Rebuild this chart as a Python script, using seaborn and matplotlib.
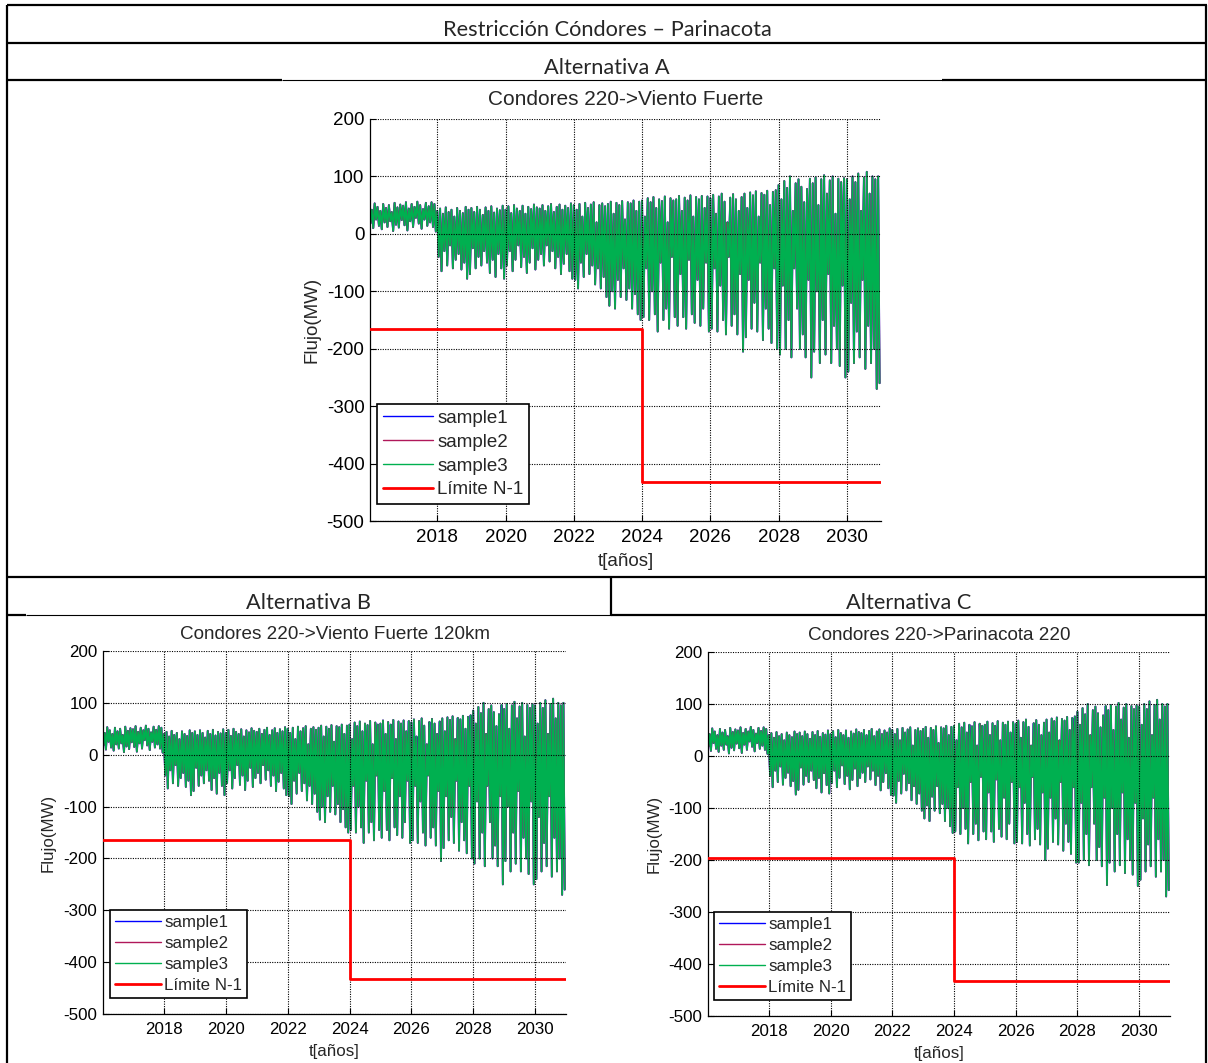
import numpy as np
import pandas as pd
import seaborn as sns
import matplotlib.pyplot as plt
from matplotlib.lines import Line2D

# picos y valles del flujo (MW), 12 de cada uno por año, 2016 -> 2030
altos = [
    50, 42, 53, 47, 40, 52, 45, 50, 38, 54, 46, 51,   # 2016
    49, 55, 44, 52, 47, 56, 50, 43, 54, 48, 55, 52,   # 2017
    40, 44, 35, 46, 38, 42, 30, 45, 40, 36, 47, 42,   # 2018
    45, 38, 47, 42, 33, 46, 40, 48, 37, 44, 41, 49,   # 2019
    42, 48, 36, 50, 44, 40, 49, 35, 47, 43, 51, 46,   # 2020
    44, 50, 40, 48, 52, 38, 47, 51, 42, 49, 45, 53,   # 2021
    50, 42, 52, 30, 54, 45, 51, 55, 20, 50, 53, 48,   # 2022
    52, 56, 35, 54, 50, 57, 25, 55, 53, 58, 40, 56,   # 2023
    58, 30, 62, 55, 64, 45, 60, 57, 65, 20, 62, 58,   # 2024
    60, 66, 40, 63, 58, 67, 30, 64, 60, 66, 45, 65,   # 2025
    62, 68, 35, 65, 70, 56, 20, 63, 69, 60, 40, 64,   # 2026
    70, 45, 72, 67, 74, 30, 71, 68, 75, 50, 73, 76,   # 2027
    85, 60, 92, 80, 100, 40, 88, 95, 82, 55, 78, 96,  # 2028
    88, 98, 50, 95, 102, 70, 93, 100, 35, 96, 90, 97, # 2029
    95, 60, 100, 90, 105, 40, 98, 108, 70, 100, 95, 100,  # 2030
]

bajos_ab = [
    18, 10, 25, 14, 8, 20, 12, 22, 5, 16, 11, 24,
    15, 6, 22, 12, 28, 18, 9, 25, 14, 20, 12, 4,
    -40, -65, -30, -55, -20, -60, -45, -35, -62, -50, -78, -70,
    -25, -60, -40, -55, -30, -50, -68, -45, -75, -35, -60, -78,
    -55, -30, -65, -45, -20, -58, -40, -68, -50, -25, -62, -45,
    -35, -55, -20, -48, -30, -60, -40, -70, -52, -35, -65, -78,
    -80, -95, -50, -75, -35, -70, -55, -88, -60, -95, -75, -110,
    -125, -100, -130, -80, -110, -60, -115, -95, -130, -105, -140, -150,
    -145, -60, -150, -100, -140, -170, -50, -150, -130, -165, -40, -145,
    -160, -70, -145, -165, -45, -140, -155, -80, -160, -130, -50, -170,
    -165, -60, -170, -90, -150, -175, -40, -160, -140, -175, -70, -205,
    -180, -80, -165, -120, -170, -50, -185, -130, -165, -190, -60, -200,
    -210, -90, -200, -150, -215, -60, -130, -200, -175, -215, -80, -250,
    -205, -100, -225, -150, -210, -70, -225, -160, -200, -230, -90, -250,
    -240, -120, -225, -170, -215, -80, -235, -160, -225, -200, -270, -260,
]

bajos_c = [
    18, 10, 25, 14, 8, 20, 12, 22, 5, 16, 11, 24,
    15, 6, 22, 12, 28, 18, 9, 25, 14, 20, 12, 4,
    -38, -60, -28, -50, -20, -55, -42, -32, -58, -48, -74, -65,
    -22, -55, -38, -50, -28, -46, -62, -42, -70, -33, -56, -72,
    -52, -28, -60, -42, -18, -54, -38, -64, -46, -24, -58, -42,
    -32, -50, -20, -45, -28, -56, -38, -66, -50, -33, -62, -75,
    -76, -90, -48, -72, -34, -66, -52, -85, -58, -92, -72, -105,
    -120, -95, -125, -78, -105, -58, -110, -92, -125, -100, -135, -148,
    -145, -60, -150, -100, -140, -168, -50, -150, -130, -162, -40, -145,
    -160, -70, -145, -165, -45, -140, -155, -80, -160, -130, -50, -168,
    -165, -60, -168, -90, -150, -172, -40, -160, -140, -170, -70, -200,
    -178, -80, -165, -120, -170, -50, -182, -130, -165, -188, -60, -205,
    -205, -90, -200, -150, -210, -60, -130, -200, -175, -212, -80, -248,
    -205, -100, -222, -150, -210, -70, -225, -160, -200, -228, -90, -250,
    -238, -120, -222, -170, -212, -80, -232, -160, -222, -200, -270, -258,
]

limite_t = [2016, 2024, 2031]
limite_ab = [-165, -432, -432]
limite_c = [-196, -432, -432]

muestras = ['sample1', 'sample2', 'sample3']
colores = {'sample1': '#0000ff', 'sample2': '#b0185a', 'sample3': '#00b050'}
grosor = {'sample1': 1.4, 'sample2': 1.35, 'sample3': 1.2}

sns.set_style('white')
plt.rcParams['font.family'] = ['Liberation Sans', 'DejaVu Sans']
plt.rcParams['axes.unicode_minus'] = False

W, H = 1208, 1063
fig = plt.figure(figsize=(W / 100, H / 100), dpi=100)


def px(x0, y0, x1, y1):
    return [x0 / W, 1 - y1 / H, (x1 - x0) / W, (y1 - y0) / H]


def panel(rect, titulo, bajos, limite, fs, fs_tit, pad_tit, pad_y, anchor):
    ax = fig.add_axes(rect)
    flujo = np.ravel(np.column_stack([altos, bajos]))
    t = 2016 + np.arange(len(flujo)) / 24
    for m in muestras:
        sns.lineplot(x=t, y=flujo, color=colores[m], linewidth=grosor[m],
                     estimator=None, sort=False, ax=ax)
    sns.lineplot(x=limite_t, y=limite, color='#ff0000', linewidth=2.0,
                 drawstyle='steps-post', estimator=None, ax=ax, zorder=4)
    ax.set_xlim(2016.03, 2031.0)
    ax.set_ylim(-500, 200)
    ax.set_xticks(range(2018, 2031, 2))
    ax.set_yticks(range(-500, 201, 100))
    ax.set_axisbelow(False)
    ax.grid(True, color='k', linestyle=(0, (1, 1.2)), linewidth=0.8)
    for s in ['top', 'right']:
        ax.spines[s].set_visible(False)
    for s in ['left', 'bottom']:
        ax.spines[s].set_color('k')
        ax.spines[s].set_linewidth(0.9)
    ax.tick_params(direction='in', length=4, width=0.8, labelsize=fs,
                   colors='k', left=True, bottom=True)
    ax.tick_params(axis='x', pad=6)
    ax.tick_params(axis='y', pad=4)
    ax.set_title(titulo, fontsize=fs_tit, pad=pad_tit)
    ax.set_xlabel('t[años]', fontsize=fs, labelpad=5)
    ax.set_ylabel('Flujo(MW)', fontsize=fs, labelpad=pad_y)
    handles = [Line2D([], [], color=colores[m], lw=1.0) for m in muestras]
    handles.append(Line2D([], [], color='#ff0000', lw=2.0))
    leg = ax.legend(handles, muestras + ['Límite N-1'], loc='lower left',
                    bbox_to_anchor=anchor, borderaxespad=0, fontsize=fs,
                    fancybox=False, framealpha=1, edgecolor='k',
                    handlelength=2.7, handletextpad=0.2, labelspacing=0.36,
                    borderpad=0.3)
    leg.get_frame().set_linewidth(1.2)
    return ax


panel(px(370, 119, 881, 521), 'Condores 220->Viento Fuerte', bajos_ab,
      limite_ab, 13.5, 15, 10, 4.5, (0.014, 0.042))
panel(px(103, 651, 566, 1014), 'Condores 220->Viento Fuerte 120km', bajos_ab,
      limite_ab, 12.2, 13.6, 8.6, 5.5, (0.015, 0.044))
panel(px(708, 652, 1170, 1016), 'Condores 220->Parinacota 220', bajos_c,
      limite_c, 12.2, 13.6, 8.6, 5.0, (0.013, 0.044))


def linea(x0, y0, x1, y1, lw=1.6):
    fig.add_artist(Line2D([x0 / W, x1 / W], [1 - y0 / H, 1 - y1 / H],
                          color='k', linewidth=lw, solid_capstyle='butt'))


linea(7, 5, 1207, 5)
linea(7, 43, 1207, 43)
linea(7, 80, 282, 80)
linea(282, 80, 942, 80, lw=0.8)
linea(942, 80, 1207, 80)
linea(7, 577, 1207, 577)
linea(7, 615, 26, 615)
linea(26, 615, 611, 615, lw=0.8)
linea(611, 615, 1207, 615)
linea(7, 5, 7, 1063)
linea(1206, 5, 1206, 1063)
linea(611, 577, 611, 615)

tabla = dict(ha='center', va='center', fontsize=15.7, family=['Lato', 'DejaVu Sans'])
fig.text(607 / W, 1 - 30 / H, 'Restricción Cóndores – Parinacota', **tabla)
fig.text(607 / W, 1 - 68 / H, 'Alternativa A', **tabla)
fig.text(309 / W, 1 - 603 / H, 'Alternativa B', **tabla)
fig.text(909 / W, 1 - 603 / H, 'Alternativa C', **tabla)

fig.savefig('out.png', dpi=100)
